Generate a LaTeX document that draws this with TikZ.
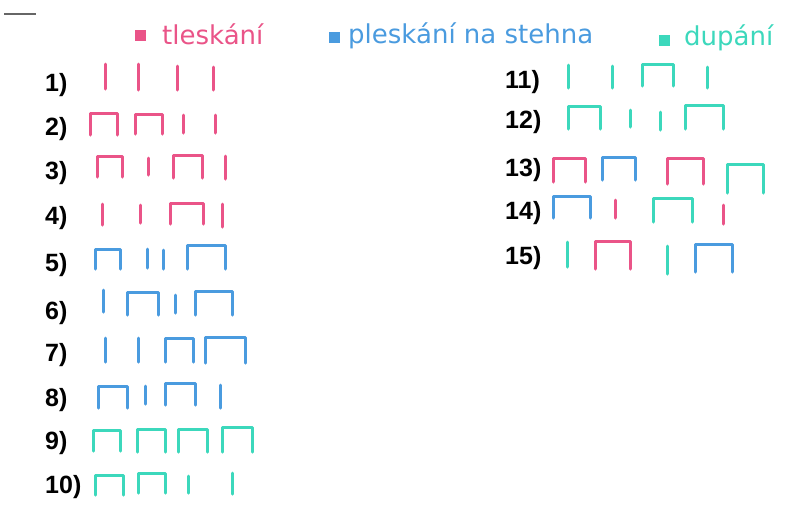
\documentclass[tikz,border=0pt]{standalone}
\usepackage{fontspec}
\setmainfont{Liberation Sans}
\newfontfamily\legfont{DejaVu Sans}
\definecolor{tlc}{HTML}{EA5488}
\definecolor{plc}{HTML}{4A9BDF}
\definecolor{dpc}{HTML}{3CD8BC}
\tikzset{
  beat/.style={line width=3pt, line cap=round, line join=round},
  tl/.style={beat, draw=tlc},
  pl/.style={beat, draw=plc},
  dp/.style={beat, draw=dpc},
  num/.style={font=\fontsize{25}{27}\selectfont\bfseries, anchor=west, inner sep=0pt},
  legtext/.style={font=\legfont\fontsize{26}{28}\selectfont, anchor=west, inner sep=0pt},
  legbox/.style={minimum size=11pt, inner sep=0pt}
}
% quarter: style, x, ytop, ybottom
\newcommand{\rtick}[4]{\draw[#1] (#2,#3) -- (#2,#4);}
% two eighths: style, x1, x2, ytop, ybottom
\newcommand{\rbrk}[5]{\draw[#1] (#2,#5) -- (#2,#4) -- (#3,#4) -- (#3,#5);}
\begin{document}
\begin{tikzpicture}[x=1pt,y=-1pt]
\useasboundingbox[fill=white] (0,0) rectangle (789,515);
\draw[line width=2pt, black!60] (4,14) -- (36,14);
% legend
\node[legbox, fill=tlc] (b1) at (140,35) {};
\node[legtext, text=tlc] (t1) at (162,34) {tleskání};
\node[legbox, fill=plc] (b2) at (334,37) {};
\node[legtext, text=plc] (t2) at (348,36) {pleskání na stehna};
\node[legbox, fill=dpc] (b3) at (664,40) {};
\node[legtext, text=dpc] (t3) at (684,38) {dupání};
% numbers
\node[num] (n1) at (45,85) {1)};
\node[num] (n2) at (45,129) {2)};
\node[num] (n3) at (45,173) {3)};
\node[num] (n4) at (45,218) {4)};
\node[num] (n5) at (45,265) {5)};
\node[num] (n6) at (45,313) {6)};
\node[num] (n7) at (45,355) {7)};
\node[num] (n8) at (45,400) {8)};
\node[num] (n9) at (45,443) {9)};
\node[num] (n10) at (45,487) {10)};
\node[num] (n11) at (505,82) {11)};
\node[num] (n12) at (505,122) {12)};
\node[num] (n13) at (505,170) {13)};
\node[num] (n14) at (505,213) {14)};
\node[num] (n15) at (505,258) {15)};
% row 1
\rtick{tl}{105}{64}{89}
\rtick{tl}{138}{64}{90}
\rtick{tl}{177}{66}{90}
\rtick{tl}{213}{67}{90}
% row 2
\rbrk{tl}{90}{117}{113}{135}
\rbrk{tl}{135}{162}{114}{134}
\rtick{tl}{183}{115}{133}
\rtick{tl}{215}{115}{133}
% row 3
\rbrk{tl}{97}{122}{156}{177}
\rtick{tl}{148}{158}{175}
\rbrk{tl}{173}{202}{155}{178}
\rtick{tl}{225}{156}{179}
% row 4
\rtick{tl}{102}{204}{225}
\rtick{tl}{140}{205}{223}
\rbrk{tl}{170}{203}{203}{224}
\rtick{tl}{222}{204}{227}
% row 5
\rbrk{pl}{95}{120}{249}{269}
\rtick{pl}{147}{249}{268}
\rtick{pl}{163}{250}{269}
\rbrk{pl}{187}{225}{245}{269}
% row 6
\rtick{pl}{103}{290}{312}
\rbrk{pl}{127}{158}{292}{315}
\rtick{pl}{175}{295}{313}
\rbrk{pl}{195}{232}{291}{315}
% row 7
\rtick{pl}{105}{338}{362}
\rtick{pl}{138}{338}{362}
\rbrk{pl}{165}{193}{338}{362}
\rbrk{pl}{205}{245}{337}{363}
% row 8
\rbrk{pl}{98}{127}{386}{408}
\rtick{pl}{145}{386}{404}
\rbrk{pl}{165}{195}{383}{405}
\rtick{pl}{220}{385}{408}
% row 9
\rbrk{dp}{93}{120}{430}{451}
\rbrk{dp}{137}{165}{429}{452}
\rbrk{dp}{178}{207}{429}{452}
\rbrk{dp}{222}{252}{427}{452}
% row 10
\rbrk{dp}{95}{123}{475}{495}
\rbrk{dp}{138}{165}{473}{493}
\rtick{dp}{188}{476}{493}
\rtick{dp}{232}{473}{494}
% row 11
\rtick{dp}{568}{65}{88}
\rtick{dp}{612}{66}{88}
\rbrk{dp}{642}{673}{64}{86}
\rtick{dp}{707}{67}{88}
% row 12
\rbrk{dp}{568}{600}{106}{129}
\rtick{dp}{630}{110}{127}
\rtick{dp}{660}{112}{130}
\rbrk{dp}{685}{723}{105}{129}
% row 13
\rbrk{tl}{553}{585}{158}{182}
\rbrk{pl}{602}{635}{157}{180}
\rbrk{tl}{667}{703}{158}{184}
\rbrk{dp}{727}{763}{164}{193}
% row 14
\rbrk{pl}{553}{590}{196}{218}
\rtick{tl}{615}{200}{218}
\rbrk{dp}{653}{692}{198}{222}
\rtick{tl}{723}{205}{224}
% row 15
\rtick{dp}{567}{242}{267}
\rbrk{tl}{595}{630}{241}{269}
\rtick{dp}{667}{246}{274}
\rbrk{pl}{695}{732}{244}{272}
\end{tikzpicture}
\end{document}
